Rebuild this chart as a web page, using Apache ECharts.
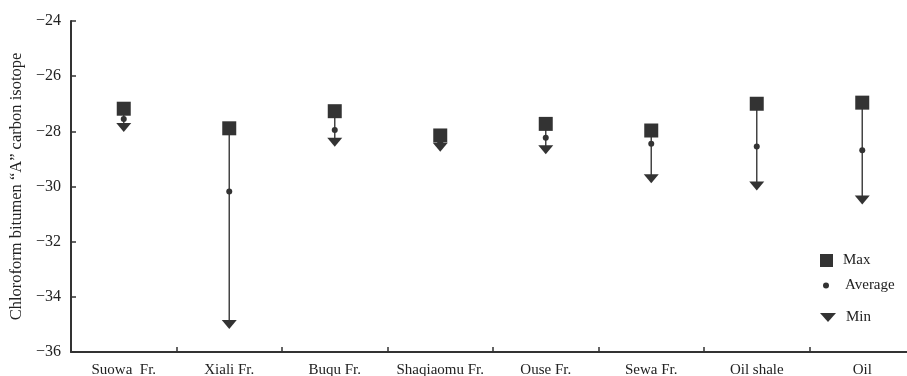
<!DOCTYPE html>
<html>
<head>
<meta charset="utf-8">
<script src="https://cdn.jsdelivr.net/npm/echarts@6/dist/echarts.min.js"></script>
<style>
  html, body { margin: 0; padding: 0; background: #fff; }
  #chart { width: 907px; height: 376px; }
</style>
</head>
<body>
<div id="chart"></div>
<script>
// Formations and their carbon isotope ranges (‰)
const categories = ['Suowa  Fr.', 'Xiali Fr.', 'Buqu Fr.', 'Shaqiaomu Fr.', 'Ouse Fr.', 'Sewa Fr.', 'Oil shale', 'Oil'];
const maxValues = [-27.18, -27.89, -27.27, -28.15, -27.73, -27.97, -27.00, -26.96];
const avgValues = [-27.55, -30.18, -27.95, -28.40, -28.23, -28.45, -28.55, -28.69];
const minValues = [-27.86, -35.00, -28.40, -28.58, -28.67, -29.72, -29.98, -30.49];

const yTicks = { min: -36, max: -24, step: 2 };

const ink = '#333333';
const textInk = '#222222';
const font = '"Liberation Serif", "DejaVu Serif", serif';
const downTriangle = 'path://M0,0 L20,0 L10,11 Z';

// one legend block per entry so each icon keeps its own size
function legendEntry(name, icon, w, h, top, left, pad) {
  return {
    orient: 'vertical',
    left: left,
    top: top,
    padding: 0,
    itemWidth: w,
    itemHeight: h,
    textStyle: { fontFamily: font, fontSize: 15, color: textInk, padding: [0, 0, 0, pad] },
    data: [{ name: name, icon: icon, itemStyle: { color: ink } }]
  };
}

const chart = echarts.init(document.getElementById('chart'));

chart.setOption({
  animation: false,
  textStyle: { fontFamily: font, color: ink },
  grid: { left: 71, right: -8, top: 21, bottom: 24, containLabel: false, outerBoundsMode: 'none' },
  legend: [
    legendEntry('Max', 'rect', 13, 13, 253, 820, 5),
    legendEntry('Average', 'circle', 6, 6, 278, 823, 11),
    legendEntry('Min', downTriangle, 16, 9, 310, 820, 5)
  ],
  xAxis: {
    type: 'category',
    data: categories,
    boundaryGap: true,
    axisLine: { lineStyle: { color: ink, width: 2 } },
    axisTick: { show: true, inside: true, length: 5, interval: 0, lineStyle: { color: ink, width: 1.5 } },
    axisLabel: { color: textInk, fontFamily: font, fontSize: 15, margin: 11, interval: 0 }
  },
  yAxis: {
    type: 'value',
    min: yTicks.min,
    max: yTicks.max,
    interval: yTicks.step,
    name: 'Chloroform bitumen \u201cA\u201d carbon isotope',
    nameLocation: 'middle',
    nameGap: 45,
    nameRotate: 90,
    nameTextStyle: { color: textInk, fontFamily: font, fontSize: 16.5 },
    axisLine: { show: true, lineStyle: { color: ink, width: 2 } },
    axisTick: { show: true, inside: true, length: 5, lineStyle: { color: ink, width: 1.5 } },
    splitLine: { show: false },
    axisLabel: {
      color: textInk, fontFamily: font, fontSize: 16, margin: 10,
      formatter: v => String(v).replace('-', '\u2212')
    }
  },
  series: [
    {
      // vertical range stem from max to min
      type: 'custom',
      name: 'range',
      silent: true,
      data: categories.map((c, i) => [i, maxValues[i], minValues[i]]),
      renderItem: (params, api) => {
        const top = api.coord([api.value(0), api.value(1)]);
        const bottom = api.coord([api.value(0), api.value(2)]);
        return {
          type: 'line',
          shape: { x1: top[0], y1: top[1], x2: bottom[0], y2: bottom[1] },
          style: { stroke: '#444', lineWidth: 1.5 }
        };
      },
      z: 1
    },
    {
      type: 'scatter', name: 'Min', data: minValues,
      symbol: downTriangle, symbolSize: [15, 9],
      itemStyle: { color: ink, opacity: 1 }, z: 3
    },
    {
      type: 'scatter', name: 'Max', data: maxValues,
      symbol: 'rect', symbolSize: 14,
      itemStyle: { color: ink, opacity: 1 }, z: 4
    },
    {
      type: 'scatter', name: 'Average', data: avgValues,
      symbol: 'circle', symbolSize: 6,
      itemStyle: { color: ink, opacity: 1 }, z: 2
    }
  ]
});
</script>
</body>
</html>
